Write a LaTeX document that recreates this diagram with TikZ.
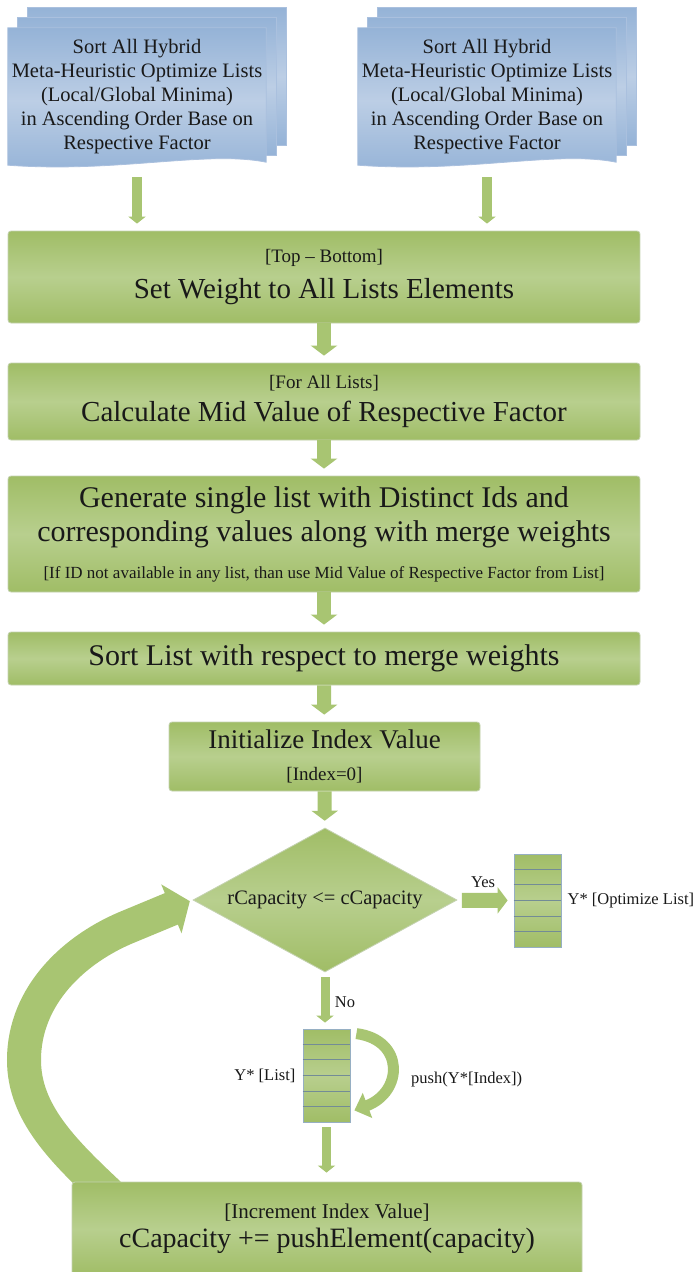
\documentclass[tikz,border=0pt]{standalone}
\usepackage{fontspec}
\setmainfont{Liberation Serif}
\usetikzlibrary{positioning,shapes.geometric,arrows.meta,backgrounds,calc}

\definecolor{greendark}{RGB}{160,189,102}
\definecolor{greenlight}{RGB}{184,207,142}
\definecolor{greenline}{RGB}{196,210,176}
\definecolor{arrowgreen}{RGB}{168,197,114}
\definecolor{bluedark}{RGB}{149,179,215}
\definecolor{bluelight}{RGB}{188,206,229}
\definecolor{blueline}{RGB}{170,192,222}
\definecolor{listline}{RGB}{150,175,195}
\definecolor{rowline}{RGB}{115,140,150}

\newcommand{\mainsize}{\fontsize{29}{33}\selectfont}
\newcommand{\widesize}{\fontsize{30}{34}\selectfont}
\newcommand{\initsize}{\fontsize{27}{32}\selectfont}
\newcommand{\incrsize}{\fontsize{28}{33}\selectfont}
\newcommand{\subsize}{\fontsize{19}{22}\selectfont}
\newcommand{\smallsize}{\fontsize{17}{20}\selectfont}
\newcommand{\docsize}{\fontsize{20.5}{24}\selectfont}
\newcommand{\labsize}{\fontsize{16.5}{20}\selectfont}

\newcommand{\pagestack}[1]{%
\begin{scope}[on background layer]
\path[docpage] ([shift={(20,-20)}]#1.north west) rectangle ([shift={(20,-20)}]#1.south east);
\path[docpage] ([shift={(10,-10)}]#1.north west) rectangle ([shift={(10,-10)}]#1.south east);
\path[docpage] (#1.north west) -- (#1.north east) -- ([shift={(0,-3)}]#1.south east)
  .. controls ([shift={(-60,-15)}]#1.south east) and ([shift={(110,8)}]#1.south west) .. (#1.south west) -- cycle;
\end{scope}}

\begin{document}
\begin{tikzpicture}[x=1pt, y=-1pt,
every node/.style={inner sep=0pt, text=black!90},
stepbox/.style={rectangle, rounded corners=3pt, draw=greenline, line width=0.8pt, top color=greendark, bottom color=greendark, middle color=greenlight, align=center, minimum width=632pt, font=\mainsize},
decide/.style={diamond, aspect=1.833, draw=greenline, line width=0.8pt, top color=greendark, bottom color=greendark, middle color=greenlight, minimum width=264pt, minimum height=144pt, font=\fontsize{20.5}{24}\selectfont},
docnode/.style={align=center, minimum width=258pt, minimum height=137pt, font=\docsize},
docpage/.style={draw=blueline, line width=0.8pt, top color=bluedark, bottom color=bluedark, middle color=bluelight},
listbox/.style={rectangle, draw=listline, line width=0.8pt, top color=greendark, bottom color=greendark, middle color=greenlight, minimum width=47pt, minimum height=93pt},
rowsep/.style={draw=rowline, line width=0.8pt},
lab/.style={font=\labsize},
flow/.style={draw=arrowgreen, line width=14pt, -{Triangle[width=26pt, length=10pt]}, shorten >=7pt},
topflow/.style={draw=arrowgreen, line width=10pt, -{Triangle[width=17pt, length=7pt]}, shorten <=12pt, shorten >=7pt},
yesflow/.style={draw=arrowgreen, line width=15pt, -{Triangle[width=26pt, length=10pt]}, shorten <=5pt, shorten >=6pt},
thinflow/.style={draw=arrowgreen, line width=9pt, -{Triangle[width=17pt, length=7pt]}, shorten <=5pt},
pushflow/.style={draw=arrowgreen, line width=11pt, -{Triangle[width=26pt, length=14pt]}},
loopflow/.style={draw=arrowgreen, line width=34pt, -{Triangle[width=52pt, length=20pt]}, shorten >=3pt}
]
\path[use as bounding box, clip] (0,0) rectangle (696,1272);
\begin{scope}[on background layer]
\fill[white] (0,0) rectangle (696,1272);
\end{scope}

\node[docnode] (srtL) at (137,96.5) {Sort All Hybrid\\Meta-Heuristic Optimize Lists\\(Local/Global Minima)\\in Ascending Order Base on\\Respective Factor};
\node[docnode] (srtR) at (487,96.5) {Sort All Hybrid\\Meta-Heuristic Optimize Lists\\(Local/Global Minima)\\in Ascending Order Base on\\Respective Factor};
\pagestack{srtL}
\pagestack{srtR}

\node[stepbox, minimum height=92pt] (setw) at (324,277) {{\subsize [Top – Bottom]}\\[3pt]Set Weight to All Lists Elements};
\node[stepbox, minimum height=77pt] (midv) at (324,401.5) {{\subsize [For All Lists]}\\Calculate Mid Value of Respective Factor};
\node[stepbox, minimum height=116pt, font=\widesize] (gens) at (324,534) {Generate single list with Distinct Ids and\\corresponding values along with merge weights\\[3pt]{\smallsize [If ID not available in any list, than use Mid Value of Respective Factor from List]}};
\node[stepbox, minimum height=53pt, font=\widesize] (sorl) at (324,658.5) {Sort List with respect to merge weights};
\node[stepbox, minimum width=311pt, minimum height=69pt, font=\initsize] (initv) at (324.5,756.5) {Initialize Index Value\\{\subsize [Index=0]}};
\node[decide] (cap) at (325,900) {rCapacity <= cCapacity};
\node[listbox] (optl) at (537.5,900.5) {};
\node[lab, right=6pt of optl] (optlab) {Y* [Optimize List]};
\node[lab] (yes) at (483,882) {Yes};
\node[listbox] (yl) at (326.5,1075.5) {};
\node[lab, left=7pt of yl] (ylab) {Y* [List]};
\node[lab] (no) at (345,1002) {No};
\node[lab, anchor=west] (pushlab) at (411,1080) {push(Y*[Index])};
\node[stepbox, minimum width=510pt, minimum height=94pt, font=\incrsize] (incr) at (327,1229) {{\fontsize{21}{24}\selectfont [Increment Index Value]}\\[-4pt]cCapacity += pushElement(capacity)};

\foreach \l in {optl,yl}
  \foreach \k in {1,...,5}
    \draw[rowsep] ($(\l.north west)!\k/6!(\l.south west)$) -- ($(\l.north east)!\k/6!(\l.south east)$);

\draw[topflow] (srtL.south) -- (srtL.south |- setw.north);
\draw[topflow] (srtR.south) -- (srtR.south |- setw.north);
\draw[flow] (setw) -- (midv);
\draw[flow] (midv) -- (gens);
\draw[flow] (gens) -- (sorl);
\draw[flow] (sorl) -- (initv);
\draw[flow] (initv) -- (cap);
\draw[yesflow] (cap) -- (optl);
\draw[thinflow, shorten >=6pt] (cap.south) -- (cap.south |- yl.north);
\draw[thinflow, shorten >=9pt] (yl) -- (yl |- incr.north);
\draw[pushflow] ([shift={(6,5)}]yl.north east) .. controls (405,1040) and (403,1092) .. ([shift={(4,-12)}]yl.south east);
\begin{scope}[on background layer]
\draw[loopflow] ([shift={(38,13)}]incr.north west) .. controls (62,1150) and (24,1112) .. (24,1060) .. controls (24,995) and (75,948) .. (130,926) -- (cap.west);
\end{scope}
\end{tikzpicture}
\end{document}
